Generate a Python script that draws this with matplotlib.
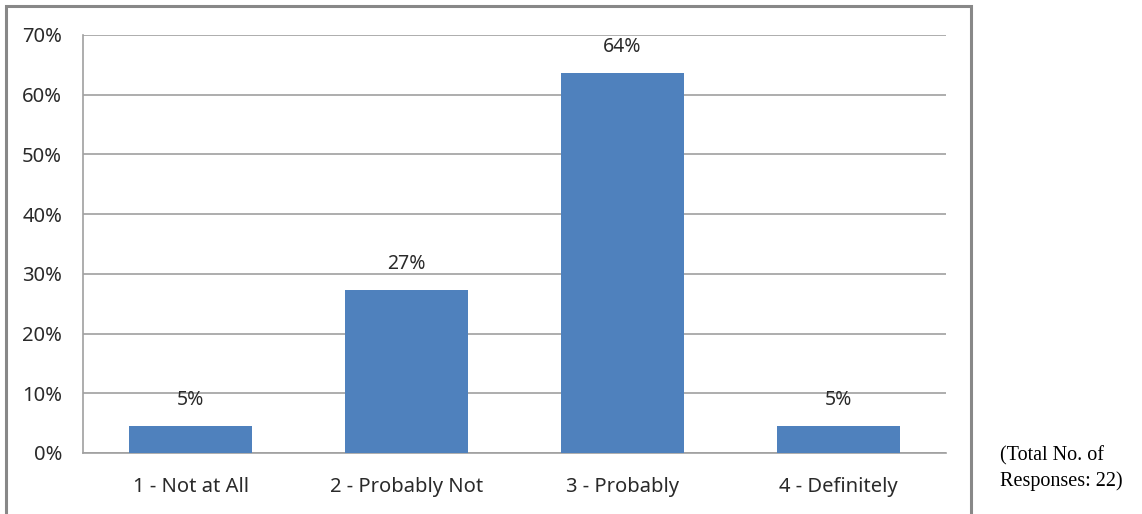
import matplotlib.pyplot as plt
from matplotlib.patches import Rectangle

categories = ['1 - Not at All', '2 - Probably Not', '3 - Probably', '4 - Definitely']
shares = [4.5, 27.3, 63.6, 4.5]
labels = ['5%', '27%', '64%', '5%']
yticks = [0, 10, 20, 30, 40, 50, 60, 70]

W, H = 1142, 514
fig = plt.figure(figsize=(W / 100, H / 100), dpi=100)
ax = fig.add_axes([83 / W, 1 - 453 / H, (946 - 83) / W, (453 - 35) / H])

grid_col = '#a0a0a0'
txt_col = '#2a2a2a'
x = range(len(categories))
ax.bar(x, shares, width=0.57, color='#4f81bd', zorder=3)
for xi, v, lab in zip(x, shares, labels):
    ax.annotate(lab, (xi, v), xytext=(0, 19), textcoords='offset points',
                ha='center', va='center', fontsize=14, color=txt_col,
                family='Noto Sans')

ax.set_xlim(-0.5, 3.5)
ax.set_ylim(0, 70)
ax.set_yticks(yticks)
ax.set_yticklabels([f'{t}%' for t in yticks], fontsize=14.5, family='Noto Sans', color=txt_col)
ax.set_xticks(list(x))
ax.set_xticklabels(categories, fontsize=14.5, family='Noto Sans', color=txt_col)
ax.tick_params(length=0)
ax.tick_params(axis='x', pad=17)
ax.tick_params(axis='y', pad=15)
ax.yaxis.grid(True, color=grid_col, linewidth=1.2, zorder=0)
for s in ['top', 'right']:
    ax.spines[s].set_visible(False)
for s in ['left', 'bottom']:
    ax.spines[s].set_color(grid_col)
    ax.spines[s].set_linewidth(1.2)

# outer chart border
fig.patches.append(Rectangle((6 / W, -0.05), (971 - 6) / W, 1.05 - 6 / H,
                             transform=fig.transFigure, fill=False,
                             edgecolor='#888888', linewidth=2.2))

fig.text(1000 / W, 1 - 456 / H, '(Total No. of', family='Liberation Serif',
         fontsize=14.5, va='center', ha='left')
fig.text(1000 / W, 1 - 481 / H, 'Responses: 22)', family='Liberation Serif',
         fontsize=14.5, va='center', ha='left')

fig.savefig('out.png', dpi=100)
